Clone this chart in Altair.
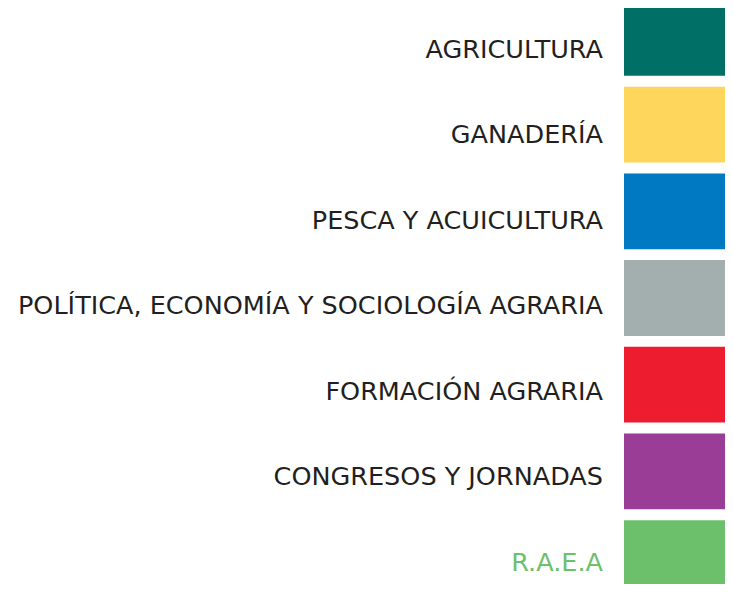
import altair as alt
import pandas as pd

categories = [
    "AGRICULTURA",
    "GANADERÍA",
    "PESCA Y ACUICULTURA",
    "POLÍTICA, ECONOMÍA Y SOCIOLOGÍA AGRARIA",
    "FORMACIÓN AGRARIA",
    "CONGRESOS Y JORNADAS",
    "R.A.E.A",
]
swatch_colors = ["#007066", "#FED65B", "#0079C2", "#A3AFAE", "#ED1C2E", "#9A3D96", "#6CC06B"]
label_colors = ["#231F20", "#231F20", "#231F20", "#231F20", "#231F20", "#231F20", "#6CC06B"]

df = pd.DataFrame({
    "category": categories,
    "swatch": swatch_colors,
    "labelcolor": label_colors,
})

# plot area fills the page inside its 8px margin
W, H = 717, 576

rects = alt.Chart(df).mark_rect(clip=True).encode(
    y=alt.Y("category:N", sort=categories, axis=None,
            scale=alt.Scale(range=[-8, 588], paddingInner=0.126, paddingOuter=0)),
    x=alt.value(616),
    x2=alt.value(W),
    color=alt.Color("swatch:N", scale=None),
)

labels = alt.Chart(df).mark_text(
    align="right", baseline="alphabetic", font="DejaVu Sans", fontSize=25.5
).encode(
    y=alt.Y("category:N", sort=categories, axis=None,
            scale=alt.Scale(type="point", range=[49.7, 563], padding=0)),
    x=alt.value(595),
    text="category:N",
    color=alt.Color("labelcolor:N", scale=None),
)

chart = alt.layer(rects, labels).resolve_scale(y="independent").properties(
    width=W, height=H,
    padding=0,
    background="white",
).configure_view(stroke=None)

chart.save("out.html", embed_options={"renderer": "svg", "actions": False})
